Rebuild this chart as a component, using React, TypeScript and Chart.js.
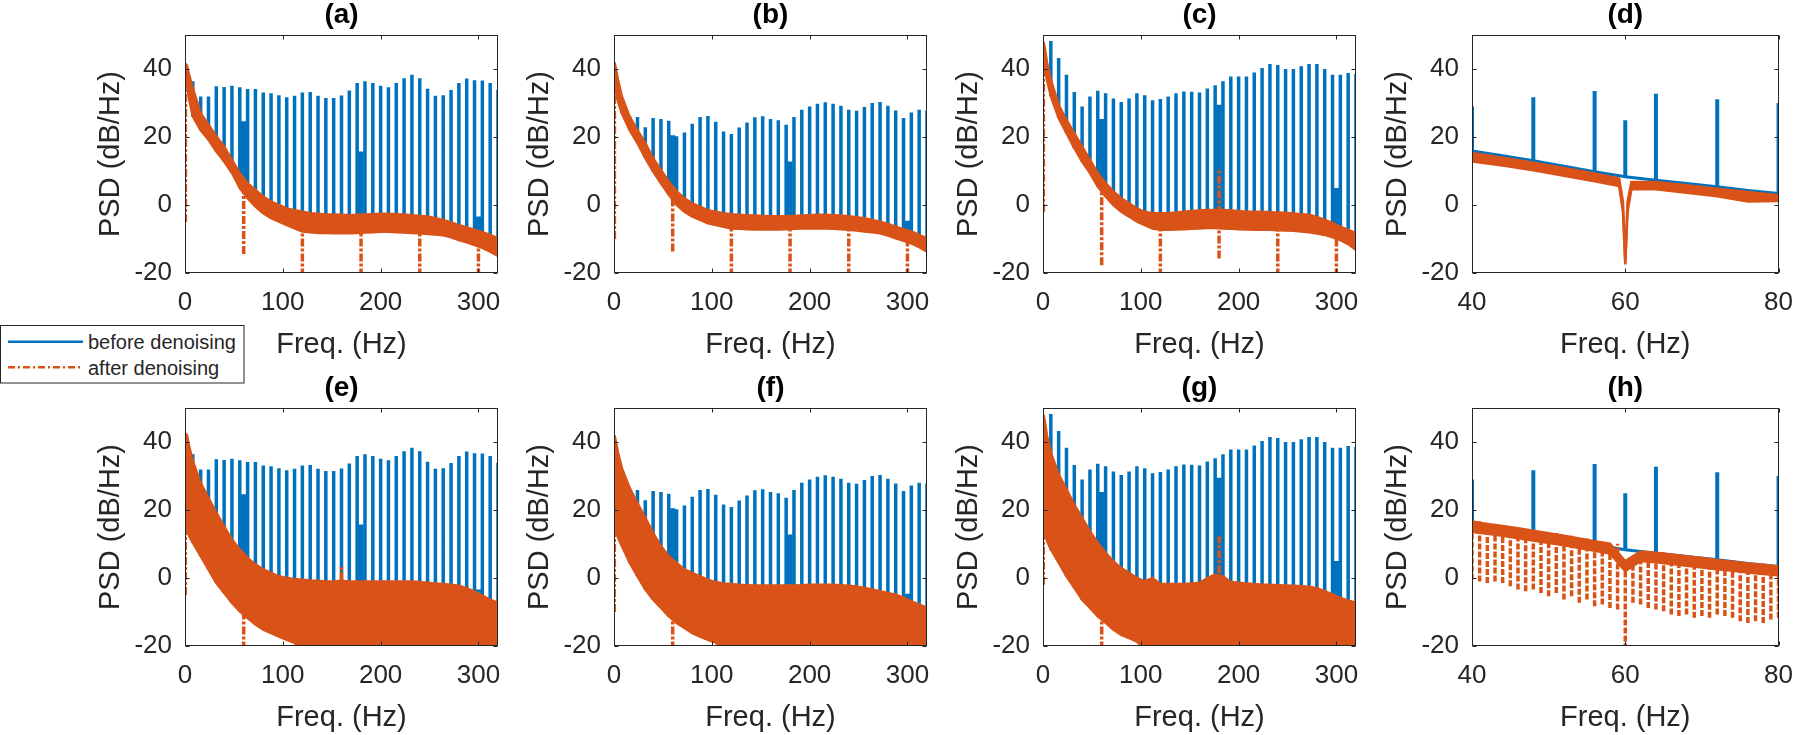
import React, { useEffect, useRef } from "react";
import { Chart, registerables } from "chart.js";
Chart.register(...registerables);

const BLUE = "#0072BD";
const ORANGE = "#D95319";
const INK = "#262626";
const FONT = "'Liberation Sans', Arial, Helvetica, sans-serif";

// ---------- shared grids ----------
const spikeFreq = [8, 16, 24, 32, 40, 48, 56, 64, 72, 80, 88, 96, 104, 112, 120, 128, 136, 144, 152, 160,
  168, 176, 184, 192, 200, 208, 216, 224, 232, 240, 248, 256, 264, 272, 280, 288, 296, 304, 312, 320];
const bandFreq = [0.5, 2, 4, ...spikeFreq];
const xTicksWide = [0, 100, 200, 300];
const xTicksZoom = [40, 60, 80];
const yTicks = [-20, 0, 20, 40];

// ---------- "before denoising" harmonic peaks (dB/Hz) ----------
const spikeTopA = [36.4, 31.9, 31.9, 34.9, 34.7, 35.1, 34.6, 34.1, 34.1, 33.1, 32.9, 32.3, 31.7, 32.1, 33.1, 33.2, 32.1, 31.5, 31.5, 32.2,
  33.7, 35.9, 36.4, 35.9, 35.1, 34.6, 35.9, 37.3, 38.3, 37.3, 34.2, 32.1, 32.3, 33.8, 35.9, 37.2, 36.7, 36.6, 35.9, 33.9];
const spikeTopB = [30, 26, 25.9, 22.9, 25.6, 25.3, 24.8, 20.2, 21.3, 23.9, 25.9, 26.2, 24.5, 21.6, 20.9, 22.8, 24.3, 25.8, 26.1, 25.3,
  24.9, 23.6, 25.9, 28.0, 29.0, 29.8, 30.2, 29.8, 29.2, 28.0, 27.7, 28.8, 30.0, 30.3, 29.2, 27.8, 25.6, 27.2, 28.0, 27.8];
const spikeTopC = [48.2, 43.2, 38.3, 33.2, 29.0, 31.9, 33.6, 32.9, 31.3, 30.3, 31.3, 32.9, 32.3, 30.8, 31.2, 31.9, 32.9, 33.4, 33.3, 33.1,
  34.3, 35.2, 36.4, 37.8, 37.8, 37.8, 39.0, 40.3, 41.5, 41.2, 40.0, 40.0, 40.8, 41.5, 41.5, 40.0, 38.3, 38.3, 38.8, 38.5];

// broad power-line bumps of the "before" signal
const blobFreq = [59.6, 179.6, 300];
const blobTopA = [24.6, 15.7, -3.4];
const blobBaseA = [5, -5, -10];
const blobTopB = [20.5, 12.8, -4.6];
const blobBaseB = [4, -5, -10];
const blobTopC = [25.3, 29.5, 5];
const blobBaseC = [5, -5, -8];

// ---------- "after denoising" band envelopes (upper / lower) ----------
const aHi = [41.5, 41, 38.5, 34.4, 27, 23.6, 20.2, 17.2, 13.3, 9.4, 6.4, 4.4, 2.5, 1, 0, -1, -1.5, -2, -2.4, -2.6, -2.8, -2.8, -2.9, -3,
  -2.9, -2.8, -2.7, -2.6, -2.6, -2.7, -2.8, -3, -3.2, -3.4, -3.9, -4.4, -5.1, -5.9, -6.6, -7.3, -8.0, -8.8, -9.8];
const aLo = [36, 35, 31.5, 26, 22, 19.2, 15.7, 12.8, 9.4, 5, 2, -0.5, -2.4, -3.9, -4.9, -5.9, -6.9, -7.8, -8, -8.2, -8.2, -8.3, -8.3, -8.3,
  -8.2, -8.1, -8, -7.9, -7.9, -8, -8.1, -8.2, -8.3, -8.5, -8.7, -8.9, -9.5, -10.3, -11, -11.8, -12.6, -13.7, -15];
const bHi = [42, 40, 37, 32, 26, 22, 18.2, 13.8, 10.3, 6.9, 4, 2, 0.5, -0.5, -1.5, -2, -2.4, -2.7, -2.9, -3, -3.1, -3.2, -3.3, -3.3,
  -3.3, -3.2, -3.1, -3, -2.9, -2.9, -3, -3.1, -3.3, -3.6, -3.9, -4.4, -4.9, -5.6, -6.4, -7.1, -7.8, -8.8, -9.8];
const bLo = [34, 33, 30.5, 27, 22, 18.2, 13.8, 9.8, 6.4, 3, 0, -2, -3.4, -4.4, -5.4, -5.9, -6.4, -6.9, -7, -7.1, -7.2, -7.2, -7.2, -7.2,
  -7.1, -7, -6.9, -6.9, -6.9, -6.9, -7, -7.1, -7.3, -7.5, -7.8, -8, -8.3, -9, -9.8, -10.5, -11.3, -12.4, -13.7];
const cHi = [48, 46, 42, 36.9, 29.5, 25, 21.1, 17.2, 13.3, 9.4, 6.4, 4, 2, 0.5, -1, -2, -2.4, -2.4, -2.4, -2.2, -2, -1.8, -1.6, -1.5,
  -1.5, -1.5, -1.6, -1.8, -2, -2, -2, -2.1, -2.2, -2.3, -2.5, -2.7, -2.9, -3.5, -4.4, -5.3, -6.4, -7.3, -8.3];
const cLo = [40, 40, 37, 32, 25.6, 21.1, 16.7, 12.8, 9.4, 5.4, 2.5, 0, -2, -3.4, -4.9, -5.9, -6.9, -7.3, -7.3, -7.2, -7.1, -7, -6.9, -6.8,
  -6.8, -6.9, -7, -7.1, -7.2, -7.3, -7.3, -7.3, -7.4, -7.5, -7.6, -7.8, -8, -8.4, -8.8, -9.5, -10.3, -11.5, -13.2];
const eHi = [42.5, 42, 39, 34.4, 28, 23.6, 19.2, 15.2, 11.3, 8.4, 5.9, 4, 2.5, 1.5, 0.5, 0, -0.3, -0.5, -0.7, -0.8, -1, -1, -0.8, -1,
  -1, -1, -1, -1, -1, -1, -1, -1, -1.2, -1.4, -1.6, -1.8, -2, -2.3, -3, -4, -5.2, -6.4, -7.3];
const eLo = [14, 14, 12.5, 10.4, 6.4, 2.5, -1.5, -4.4, -7.3, -9.8, -11.8, -13.7, -15.2, -16.2, -17.2, -18.2, -19.1, -21, -21, -21, -21,
  -21, -21, -21, -21, -21, -21, -21, -21, -21, -21, -21, -21, -21, -21, -21, -21, -21, -21, -21, -21, -21, -21];
const fHi = [42, 40, 37, 32.4, 26.5, 22, 17.7, 13.3, 9.4, 6.4, 4.4, 2.5, 1.5, 0.5, -0.5, -1.2, -1.6, -1.8, -2, -2.1, -2.2, -2.2, -2.2, -2.2,
  -2.2, -2.2, -2.1, -2, -2, -2, -2, -2.1, -2.3, -2.5, -2.9, -3.4, -3.9, -4.4, -4.9, -5.8, -6.9, -7.8, -8.8];
const fLo = [14, 13.3, 12, 9.4, 4.5, 0.5, -3.4, -6.4, -8.8, -11.3, -13.2, -14.7, -16.2, -17.2, -18.2, -19, -21, -21, -21, -21, -21,
  -21, -21, -21, -21, -21, -21, -21, -21, -21, -21, -21, -21, -21, -21, -21, -21, -21, -21, -21, -21, -21, -21];
const gHi = [48, 46, 42, 36.9, 30.5, 26.1, 21.6, 17.7, 13.8, 10.3, 7.4, 4.9, 2.9, 1.5, 0, -1, 0, -1.8, -1.8, -1.8, -1.8, -1.6, -1.4, 0,
  1, 0.5, -1.2, -1.4, -1.6, -1.8, -2, -2, -2.1, -2.2, -2.3, -2.4, -2.6, -3, -3.9, -4.8, -5.9, -6.6, -7.3];
const gLo = [14, 13, 11, 8.4, 4.5, 0.5, -2.9, -6.4, -8.8, -11.3, -13.2, -15.2, -16.7, -17.7, -18.7, -21, -21, -21, -21, -21, -21,
  -21, -21, -21, -21, -21, -21, -21, -21, -21, -21, -21, -21, -21, -21, -21, -21, -21, -21, -21, -21, -21, -21];

// ---------- "after denoising" notches (freq, top, bottom) ----------
const notchFreqA = [0.4, 60, 120, 180, 240, 300];
const notchTopA = [41, 5, -5, -5, -5, -10];
const notchBotA = [-5, -14.4, -21, -21, -21, -21];
const notchFreqB = [0.4, 60, 120, 180, 240, 300];
const notchTopB = [40, 4, -5, -5, -5, -9];
const notchBotB = [-10, -13.7, -21, -21, -21, -21];
const notchFreqC = [0.4, 60, 120, 180, 240, 300];
const notchTopC = [44, 5, -5, 10.8, -5, -8];
const notchBotC = [-2, -17.7, -21, -15.7, -21, -21];
const notchFreqE = [0.3, 60, 160];
const notchTopE = [30, -9, 3.4];
const notchBotE = [-5, -21, -5];
const notchFreqF = [0.3, 60];
const notchTopF = [30, -10];
const notchBotF = [-10, -21];
const notchFreqG = [0.3, 60, 180];
const notchTopG = [30, -10, 12.3];
const notchBotG = [-2, -21, -3];

// ---------- zoomed panels (d), (h): 40-80 Hz ----------
const zBaseFreq = [40, 44, 48, 52, 56, 60, 64, 68, 72, 76, 80];
const zBaseVal = [15.9, 14.5, 13.0, 11.4, 9.8, 8.3, 7.3, 6.3, 5.4, 4.3, 3.4];
const zSpikeFreq = [40, 48, 56, 60, 64, 72, 80];
const zSpikeTop = [29, 31.7, 33.5, 24.9, 32.7, 31.1, 30];
const dFreq = [40, 44, 48, 52, 56, 59.2, 59.7, 60, 60.3, 60.8, 64, 68, 72, 76, 80];
const dHi = [15.3, 13.9, 12.4, 10.9, 9.3, 7.8, 1, -17, 1, 6.8, 6.8, 5.8, 4.8, 3.8, 2.9];
const dLo = [12.8, 11.6, 10.2, 8.6, 7.0, 5.6, -2, -17.5, -2, 4.6, 4.6, 3.6, 2.6, 1.0, 1.2];
const hFreq = [40, 42, 44, 46, 48, 50, 52, 54, 56, 58, 60, 62, 64, 66, 68, 70, 72, 74, 76, 78, 80];
const hHi = [16.6, 15.9, 15.3, 14.6, 13.9, 13.2, 12.4, 11.6, 10.8, 10.1, 5, 7.8, 7.4, 6.9, 6.4, 5.9, 5.3, 4.8, 4.3, 3.9, 3.4];
const hLo = [13.5, 13, 12.4, 11.7, 11, 10.3, 9.6, 8.8, 8, 7.2, 2, 5, 4.6, 4.1, 3.6, 3.1, 2.6, 2.1, 1.6, 1.2, 0.8];
const hCombFreq = [40, 41, 42, 43, 44, 45, 46, 47, 48, 49, 50, 51, 52, 53, 54, 55, 56, 57, 58, 59, 60,
  61, 62, 63, 64, 65, 66, 67, 68, 69, 70, 71, 72, 73, 74, 75, 76, 77, 78, 79, 80];
const hCombLow = [-0.5, -1, -1.5, -1, -1.5, -2.4, -3.4, -3.9, -3.4, -4.4, -5.4, -4.4, -6.3, -5.4, -7.3, -6.3, -8.3, -7.8, -8.8, -9.3, -21,
  -7.3, -7.8, -8.8, -9.3, -9.8, -10.7, -11.2, -10.7, -11.7, -11.2, -11.7, -10.7, -11.2, -11.7, -12.7, -13.2, -12.7, -13.2, -12.2, -11.7];

// ---------- helpers ----------
type Pt = { x: number; y: number | null };
function verticals(freqs: number[], lows: number[], highs: number[]): Pt[] {
  const out: Pt[] = [];
  freqs.forEach((f, i) => {
    out.push({ x: f, y: lows[i] }, { x: f, y: highs[i] }, { x: f, y: null });
  });
  return out;
}
function curve(freqs: number[], vals: number[]): Pt[] {
  return freqs.map((f, i) => ({ x: f, y: vals[i] }));
}
function lookup(freqs: number[], vals: number[], f: number) {
  return vals[freqs.indexOf(f)];
}
function line(data: Pt[], color: string, width: number, order: number, extra: any = {}) {
  return {
    data, borderColor: color, backgroundColor: color, borderWidth: width, order,
    pointRadius: 0, tension: 0, spanGaps: false, fill: false, clip: 0, ...extra,
  };
}
const NOTCH_DASH = [8, 2, 3, 2];

function widePanel(title: string, spikeTop: number[], blobTop: number[], blobBase: number[],
  hi: number[], lo: number[], nF: number[], nTop: number[], nBot: number[]) {
  const spikeBase = spikeFreq.map((f) => lookup(bandFreq, lo, f));
  return {
    title, xMin: 0, xMax: 320, xTicks: xTicksWide,
    datasets: [
      line(verticals(spikeFreq, spikeBase, spikeTop), BLUE, 3.5, 9),
      line(verticals(blobFreq, blobBase, blobTop), BLUE, 6, 8),
      line(verticals(nF, nBot, nTop), ORANGE, 3.5, 6, { borderDash: NOTCH_DASH }),
      line(curve(bandFreq, hi), ORANGE, 2.5, 5, { fill: "+1" }),
      line(curve(bandFreq, lo), ORANGE, 2.5, 5),
    ],
  };
}

function zoomPanel(title: string, comb: boolean) {
  const spikeBase = zSpikeFreq.map((f) => lookup(zBaseFreq, zBaseVal, f));
  const ds: any[] = [
    line(curve(zBaseFreq, zBaseVal), BLUE, 3, 10),
    line(verticals(zSpikeFreq, spikeBase, zSpikeTop), BLUE, 4, 9),
  ];
  if (comb) {
    const combTop = hCombFreq.map((f) => lookup(hFreq, hHi, f - (f % 2)));
    ds.push(line(verticals(hCombFreq, hCombLow, combTop), ORANGE, 3.5, 6, { borderDash: [6, 2] }));
    ds.push(line(curve(hFreq, hHi), ORANGE, 2.5, 5, { fill: "+1" }));
    ds.push(line(curve(hFreq, hLo), ORANGE, 2.5, 5));
  } else {
    ds.push(line(curve(dFreq, dHi), ORANGE, 2.5, 5, { fill: "+1" }));
    ds.push(line(curve(dFreq, dLo), ORANGE, 2.5, 5));
  }
  return { title, xMin: 40, xMax: 80, xTicks: xTicksZoom, datasets: ds };
}

const panels = [
  widePanel("(a)", spikeTopA, blobTopA, blobBaseA, aHi, aLo, notchFreqA, notchTopA, notchBotA),
  widePanel("(b)", spikeTopB, blobTopB, blobBaseB, bHi, bLo, notchFreqB, notchTopB, notchBotB),
  widePanel("(c)", spikeTopC, blobTopC, blobBaseC, cHi, cLo, notchFreqC, notchTopC, notchBotC),
  zoomPanel("(d)", false),
  widePanel("(e)", spikeTopA, blobTopA, blobBaseA, eHi, eLo, notchFreqE, notchTopE, notchBotE),
  widePanel("(f)", spikeTopB, blobTopB, blobBaseB, fHi, fLo, notchFreqF, notchTopF, notchBotF),
  widePanel("(g)", spikeTopC, blobTopC, blobBaseC, gHi, gLo, notchFreqG, notchTopG, notchBotG),
  zoomPanel("(h)", true),
];

// ---------- layout ----------
const PANEL_LEFT = [185, 614, 1043, 1472];
const ROW_TOP = [35, 408];
const AREA_W = 313;
const AREA_H = 238;
const Y_AXIS_W = 110;
const PAD_TOP = 35;
const PAD_RIGHT = 22;
const CANVAS_W = Y_AXIS_W + AREA_W + PAD_RIGHT;
const CANVAS_H = 370;

const framePlugin = {
  id: "frame",
  afterDatasetsDraw(chart: any, _args: any, opts: any) {
    const { ctx, chartArea: a, scales } = chart;
    const xs = scales.x, ys = scales.y;
    ctx.save();
    ctx.strokeStyle = INK;
    ctx.lineWidth = 1;
    const L = Math.round(a.left) + 0.5, R = Math.round(a.right) - 0.5;
    const T = Math.round(a.top) + 0.5, B = Math.round(a.bottom) - 0.5;
    ctx.strokeRect(L, T, R - L, B - T);
    const tl = 4;
    ctx.beginPath();
    (opts.xTicks as number[]).forEach((v) => {
      const px = Math.round(xs.getPixelForValue(v)) + 0.5;
      ctx.moveTo(px, B); ctx.lineTo(px, B - tl);
      ctx.moveTo(px, T); ctx.lineTo(px, T + tl);
    });
    (opts.yTicks as number[]).forEach((v) => {
      const py = Math.round(ys.getPixelForValue(v)) + 0.5;
      ctx.moveTo(L, py); ctx.lineTo(L + tl, py);
      ctx.moveTo(R, py); ctx.lineTo(R - tl, py);
    });
    ctx.stroke();
    ctx.restore();
  },
  afterDraw(chart: any, _args: any, opts: any) {
    const { ctx, chartArea: a } = chart;
    ctx.save();
    ctx.fillStyle = "#000";
    ctx.font = `bold 28px ${FONT}`;
    ctx.textAlign = "center";
    ctx.textBaseline = "middle";
    ctx.fillText(opts.title, (a.left + a.right) / 2, a.top - 20);
    ctx.restore();
  },
};

function Panel({ spec, left, top }: { spec: any; left: number; top: number }) {
  const ref = useRef<HTMLCanvasElement | null>(null);
  useEffect(() => {
    if (!ref.current) return;
    const chart = new Chart(ref.current, {
      type: "line",
      data: { datasets: spec.datasets },
      options: {
        responsive: false,
        animation: false,
        devicePixelRatio: 1,
        layout: { padding: { left: 0, top: PAD_TOP, right: PAD_RIGHT, bottom: 0 } },
        plugins: {
          legend: { display: false },
          tooltip: { enabled: false },
          title: { display: false },
          frame: { title: spec.title, xTicks: spec.xTicks, yTicks },
        } as any,
        scales: {
          x: {
            type: "linear",
            min: spec.xMin,
            max: spec.xMax,
            grid: { display: false, drawTicks: false },
            border: { display: false },
            ticks: {
              stepSize: 20,
              font: { size: 26, family: FONT },
              color: INK,
              padding: 14,
              maxRotation: 0,
              autoSkip: false,
            },
            title: {
              display: true,
              text: "Freq. (Hz)",
              font: { size: 29, family: FONT },
              color: INK,
              padding: { top: 0, bottom: 7.6 },
            },
            afterBuildTicks: (s: any) => {
              s.ticks = spec.xTicks.map((v: number) => ({ value: v }));
            },
            afterFit: (s: any) => {
              s.height = CANVAS_H - PAD_TOP - AREA_H;
            },
          },
          y: {
            type: "linear",
            min: -20,
            max: 50,
            grid: { display: false, drawTicks: false },
            border: { display: false },
            ticks: {
              stepSize: 10,
              font: { size: 26, family: FONT },
              color: INK,
              padding: 13,
            },
            title: {
              display: true,
              text: "PSD (dB/Hz)",
              font: { size: 29, family: FONT },
              color: INK,
              padding: { top: 18.6, bottom: 0 },
            },
            afterBuildTicks: (s: any) => {
              s.ticks = yTicks.map((v) => ({ value: v }));
            },
            afterFit: (s: any) => {
              s.width = Y_AXIS_W;
            },
          },
        },
      } as any,
      plugins: [framePlugin],
    });
    return () => chart.destroy();
  }, [spec]);
  return (
    <canvas
      ref={ref}
      width={CANVAS_W}
      height={CANVAS_H}
      style={{ position: "absolute", left, top, width: CANVAS_W, height: CANVAS_H }}
    />
  );
}

function Legend() {
  return (
    <svg width={245} height={59} style={{ position: "absolute", left: 0, top: 325 }}>
      <rect x={0.5} y={0.5} width={243.5} height={57.5} fill="#fff" stroke={INK} strokeWidth={1} />
      <line x1={8} x2={83} y1={16.7} y2={16.7} stroke={BLUE} strokeWidth={2.5} />
      <line x1={8} x2={83} y1={42.3} y2={42.3} stroke={ORANGE} strokeWidth={2.5} strokeDasharray="7 3 2 3" />
      <text x={88} y={17} dominantBaseline="central" fontFamily={FONT} fontSize={20} fill={INK}>
        before denoising
      </text>
      <text x={88} y={42.5} dominantBaseline="central" fontFamily={FONT} fontSize={20} fill={INK}>
        after denoising
      </text>
    </svg>
  );
}

export default function App() {
  return (
    <div
      style={{
        position: "absolute",
        left: 0,
        top: 0,
        width: 1800,
        height: 735,
        overflow: "hidden",
        background: "#fff",
        fontFamily: FONT,
      }}
    >
      {panels.map((p, i) => {
        const col = i % 4;
        const row = Math.floor(i / 4);
        return (
          <Panel
            key={i}
            spec={p}
            left={PANEL_LEFT[col] - Y_AXIS_W}
            top={ROW_TOP[row] - PAD_TOP}
          />
        );
      })}
      <Legend />
    </div>
  );
}
